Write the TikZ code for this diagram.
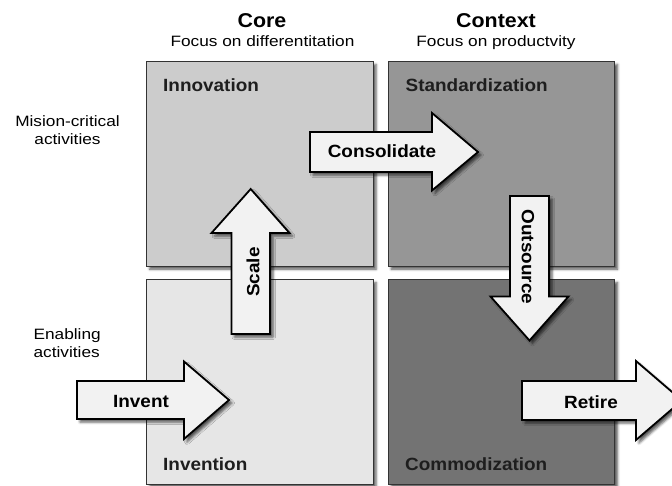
\documentclass[tikz,border=0pt]{standalone}
\usepackage{fontspec}
\setmainfont{Liberation Sans}[FakeStretch=1.15]
\newfontfamily\heavyface{Liberation Sans}[FakeStretch=1.07]
\usetikzlibrary{shadows.blur}

\definecolor{innovfill}{HTML}{CCCCCC}
\definecolor{standfill}{HTML}{969696}
\definecolor{inventfill}{HTML}{E6E6E6}
\definecolor{commodfill}{HTML}{737373}
\definecolor{arrowfill}{HTML}{F2F2F2}
\definecolor{boxline}{HTML}{333333}
\definecolor{labelgray}{HTML}{1E1E1E}

\begin{document}
\begin{tikzpicture}[x=1pt,y=-1pt,
  softshadow/.style={blur shadow={shadow xshift=3pt, shadow yshift=-3pt,
      shadow blur radius=2.5pt, shadow opacity=65}},
  quad/.style={draw=boxline, line width=1.2pt, softshadow, inner sep=0pt,
      minimum width=226.5pt, minimum height=204.5pt, anchor=north west},
  blockarrow/.style={fill=arrowfill, draw=black, line width=1.8pt,
      line join=miter, softshadow},
  quadlabel/.style={anchor=base west, inner sep=0pt, text=labelgray,
      font=\heavyface\bfseries\fontsize{17.7}{20}\selectfont},
  arrowlabel/.style={inner sep=0pt, text=black,
      font=\heavyface\bfseries\fontsize{17.7}{20}\selectfont},
  colhead/.style={anchor=base, inner sep=0pt,
      font=\heavyface\bfseries\fontsize{20}{24}\selectfont},
  colsub/.style={anchor=base, inner sep=0pt, font=\fontsize{15}{18}\selectfont},
  rowlabel/.style={inner sep=0pt, font=\fontsize{15}{18}\selectfont},
]
\path[use as bounding box] (0,0) rectangle (672,485);
\clip (0,0) rectangle (672,485);

% column headings
\node[colhead] (core) at (262,27) {Core};
\node[colsub] (coresub) at (262.5,46.7) {Focus on differentitation};
\node[colhead] (context) at (496,27) {Context};
\node[colsub] (contextsub) at (496,46.7) {Focus on productvity};

% row headings
\node[rowlabel, anchor=base] (mc1) at (67.5,126) {Mision-critical};
\node[rowlabel, anchor=base] (mc2) at (67.5,144.5) {activities};
\node[rowlabel, anchor=base west] (en1) at (33.4,339.5) {Enabling};
\node[rowlabel, anchor=base west] (en2) at (33.4,357.5) {activities};

% the four quadrants
\node[quad, fill=innovfill] (innovation) at (146,61) {};
\node[quad, fill=standfill] (standard) at (387.5,61) {};
\node[quad, fill=inventfill] (invention) at (146,279) {};
\node[quad, fill=commodfill] (commod) at (387.5,279) {};

\node[quadlabel] at (163,91.7) {Innovation};
\node[quadlabel] at (405.5,91.7) {Standardization};
\node[quadlabel] at (163,470) {Invention};
\node[quadlabel] at (405,470) {Commodization};

% block arrows
\draw[blockarrow] (77,381) -- (184,381) -- (184,361.5) -- (229,400)
  -- (184,439) -- (184,419) -- (77,419) -- cycle;
\draw[blockarrow] (231.5,334) -- (231.5,233) -- (211.5,233) -- (250.7,189)
  -- (289.5,233) -- (270,233) -- (270,334) -- cycle;
\draw[blockarrow] (310,132) -- (432,132) -- (432,113) -- (478,152)
  -- (432,190.5) -- (432,172) -- (310,172) -- cycle;
\draw[blockarrow] (510,196) -- (549,196) -- (549,296.5) -- (568.5,296.5)
  -- (529.5,340.5) -- (490.5,296.5) -- (510,296.5) -- cycle;
\draw[blockarrow] (522,381) -- (636,381) -- (636,361) -- (682,400.5)
  -- (636,440) -- (636,420) -- (522,420) -- cycle;

% arrow captions
\node[arrowlabel, anchor=base] (invent) at (141,407) {Invent};
\node[arrowlabel, rotate=90] (scale) at (253,272) {Scale};
\node[arrowlabel, anchor=base] (consolidate) at (382,157.7) {Consolidate};
\node[arrowlabel, rotate=-90] (outsource) at (528,257) {Outsource};
\node[arrowlabel, anchor=base] (retire) at (591,408) {Retire};
\end{tikzpicture}
\end{document}
